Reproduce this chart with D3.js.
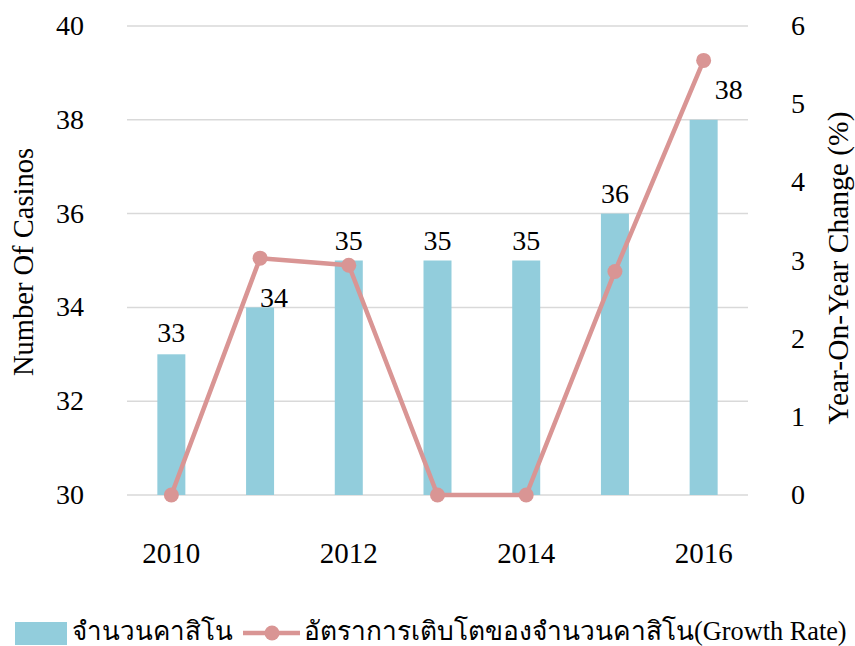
<!DOCTYPE html>
<html>
<head>
<meta charset="utf-8">
<script src="https://cdn.jsdelivr.net/npm/d3@7"></script>
<style>
  body { margin: 0; background: #fff; }
  text { font-family: "Liberation Serif", "Times New Roman", serif; fill: #000; }
</style>
</head>
<body>
<script>
var years = ["2010", "2011", "2012", "2013", "2014", "2015", "2016"];
var casinos = [33, 34, 35, 35, 35, 36, 38];
var growth = [0, 3.03, 2.94, 0, 0, 2.86, 5.56];
var leftTicks = [30, 32, 34, 36, 38, 40];
var rightTicks = [0, 1, 2, 3, 4, 5, 6];
var xLabels = ["2010", "2012", "2014", "2016"];

var width = 855, height = 646;
var plotLeft = 127, plotRight = 748, plotTop = 26, plotBottom = 495;

var svg = d3.select("body").append("svg")
  .attr("width", width)
  .attr("height", height);

var xc = d3.scalePoint().domain(years).range([plotLeft, plotRight]).padding(0.5);
var yL = d3.scaleLinear().domain([30, 40]).range([plotBottom, plotTop]);
var yR = d3.scaleLinear().domain([0, 6]).range([plotBottom, plotTop]);

// gridlines
svg.selectAll("line.grid")
  .data(leftTicks)
  .enter()
  .append("line")
  .attr("x1", plotLeft)
  .attr("x2", plotRight)
  .attr("y1", function(d){ return yL(d); })
  .attr("y2", function(d){ return yL(d); })
  .style("stroke", "#d9d9d9")
  .style("stroke-width", 1.5);

// bars
svg.selectAll("rect.bar")
  .data(casinos)
  .enter()
  .append("rect")
  .attr("x", function(d, i){ return xc(years[i]) - 14; })
  .attr("width", 28)
  .attr("y", function(d){ return yL(d); })
  .attr("height", function(d){ return plotBottom - yL(d); })
  .style("fill", "#92cddc");

// bar labels (nudged like the original where the line is in the way)
var labelDx = [0, 14, 0, 0, 0, 0, 25];
var labelDy = [-12, 0, -11, -11, -11, -11, -21];
svg.selectAll("text.barlabel")
  .data(casinos)
  .enter()
  .append("text")
  .attr("x", function(d, i){ return xc(years[i]) + labelDx[i]; })
  .attr("y", function(d, i){ return yL(d) + labelDy[i]; })
  .attr("text-anchor", "middle")
  .style("font-size", "28px")
  .text(function(d){ return d; });

// growth line
var line = d3.line()
  .x(function(d, i){ return xc(years[i]); })
  .y(function(d){ return yR(d); });

svg.append("path")
  .datum(growth)
  .attr("d", line)
  .style("fill", "none")
  .style("stroke", "#d99594")
  .style("stroke-width", 4.5)
  .style("stroke-linejoin", "round");

svg.selectAll("circle.pt")
  .data(growth)
  .enter()
  .append("circle")
  .attr("cx", function(d, i){ return xc(years[i]); })
  .attr("cy", function(d){ return yR(d); })
  .attr("r", 7.5)
  .style("fill", "#d99594");

// left ticks
svg.selectAll("text.lt")
  .data(leftTicks)
  .enter()
  .append("text")
  .attr("x", 84)
  .attr("y", function(d){ return yL(d) + 9; })
  .attr("text-anchor", "end")
  .style("font-size", "28px")
  .text(function(d){ return d; });

// right ticks
svg.selectAll("text.rt")
  .data(rightTicks)
  .enter()
  .append("text")
  .attr("x", 791)
  .attr("y", function(d){ return yR(d) + 9; })
  .attr("text-anchor", "start")
  .style("font-size", "28px")
  .text(function(d){ return d; });

// x labels
svg.selectAll("text.xl")
  .data(xLabels)
  .enter()
  .append("text")
  .attr("x", function(d){ return xc(d); })
  .attr("y", 563)
  .attr("text-anchor", "middle")
  .style("font-size", "29px")
  .text(function(d){ return d; });

// axis titles
svg.append("text")
  .attr("transform", "translate(33,262) rotate(-90)")
  .attr("text-anchor", "middle")
  .style("font-size", "28.5px")
  .text("Number Of Casinos");

svg.append("text")
  .attr("transform", "translate(848,268) rotate(-90)")
  .attr("text-anchor", "middle")
  .style("font-size", "29.5px")
  .text("Year-On-Year Change (%)");

// legend
svg.append("rect")
  .attr("x", 15).attr("y", 622).attr("width", 52).attr("height", 23)
  .style("fill", "#92cddc");
svg.append("text")
  .attr("x", 72).attr("y", 640)
  .style("font-size", "26px")
  .text("จำนวนคาสิโน");
svg.append("line")
  .attr("x1", 243).attr("x2", 300).attr("y1", 633).attr("y2", 633)
  .style("stroke", "#d99594").style("stroke-width", 4.5);
svg.append("circle")
  .attr("cx", 272).attr("cy", 633).attr("r", 7.5)
  .style("fill", "#d99594");
svg.append("text")
  .attr("x", 304).attr("y", 640)
  .style("font-size", "26.3px")
  .text("อัตราการเติบโตของจำนวนคาสิโน(Growth Rate)");
</script>
</body>
</html>
